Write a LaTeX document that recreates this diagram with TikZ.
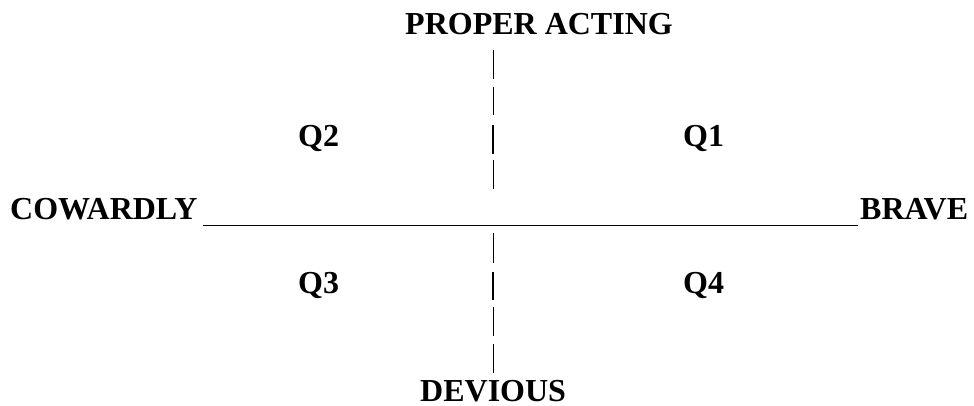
\documentclass[tikz,border=0pt]{standalone}
\usepackage{fontspec}
\setmainfont{Liberation Serif}
\begin{document}
\begin{tikzpicture}[x=1pt,y=-1pt,
  lbl/.style={inner sep=0pt,anchor=base west,font=\fontsize{32}{32}\selectfont\bfseries},
  thin bar/.style={line width=1pt},
  bold bar/.style={line width=2pt},
  axis/.style={line width=1pt}]
\useasboundingbox (0,0) rectangle (974,406);
\node[lbl] (top) at (405,35) {PROPER ACTING};
\node[lbl] (bot) at (420,401) {DEVIOUS};
\node[lbl] (cow) at (10,219) {COWARDLY};
\node[lbl] (brave) at (860,219) {BRAVE};
\node[lbl] (q2) at (298,147) {Q2};
\node[lbl] (q1) at (683,147) {Q1};
\node[lbl] (q3) at (298,293) {Q3};
\node[lbl] (q4) at (683,293) {Q4};
\coordinate (hl) at (203,225);
\coordinate (hr) at (858,225);
\draw[axis] (hl) -- (hr);
\draw[thin bar] (493,50) -- (493,79);
\draw[thin bar] (493,87) -- (493,115);
\draw[bold bar] (493,125) -- (493,154);
\draw[thin bar] (493,160) -- (493,189);
\draw[thin bar] (493,233) -- (493,263);
\draw[bold bar] (493,272) -- (493,300);
\draw[thin bar] (493,307) -- (493,336);
\draw[thin bar] (493,344) -- (493,373);
\end{tikzpicture}
\end{document}
